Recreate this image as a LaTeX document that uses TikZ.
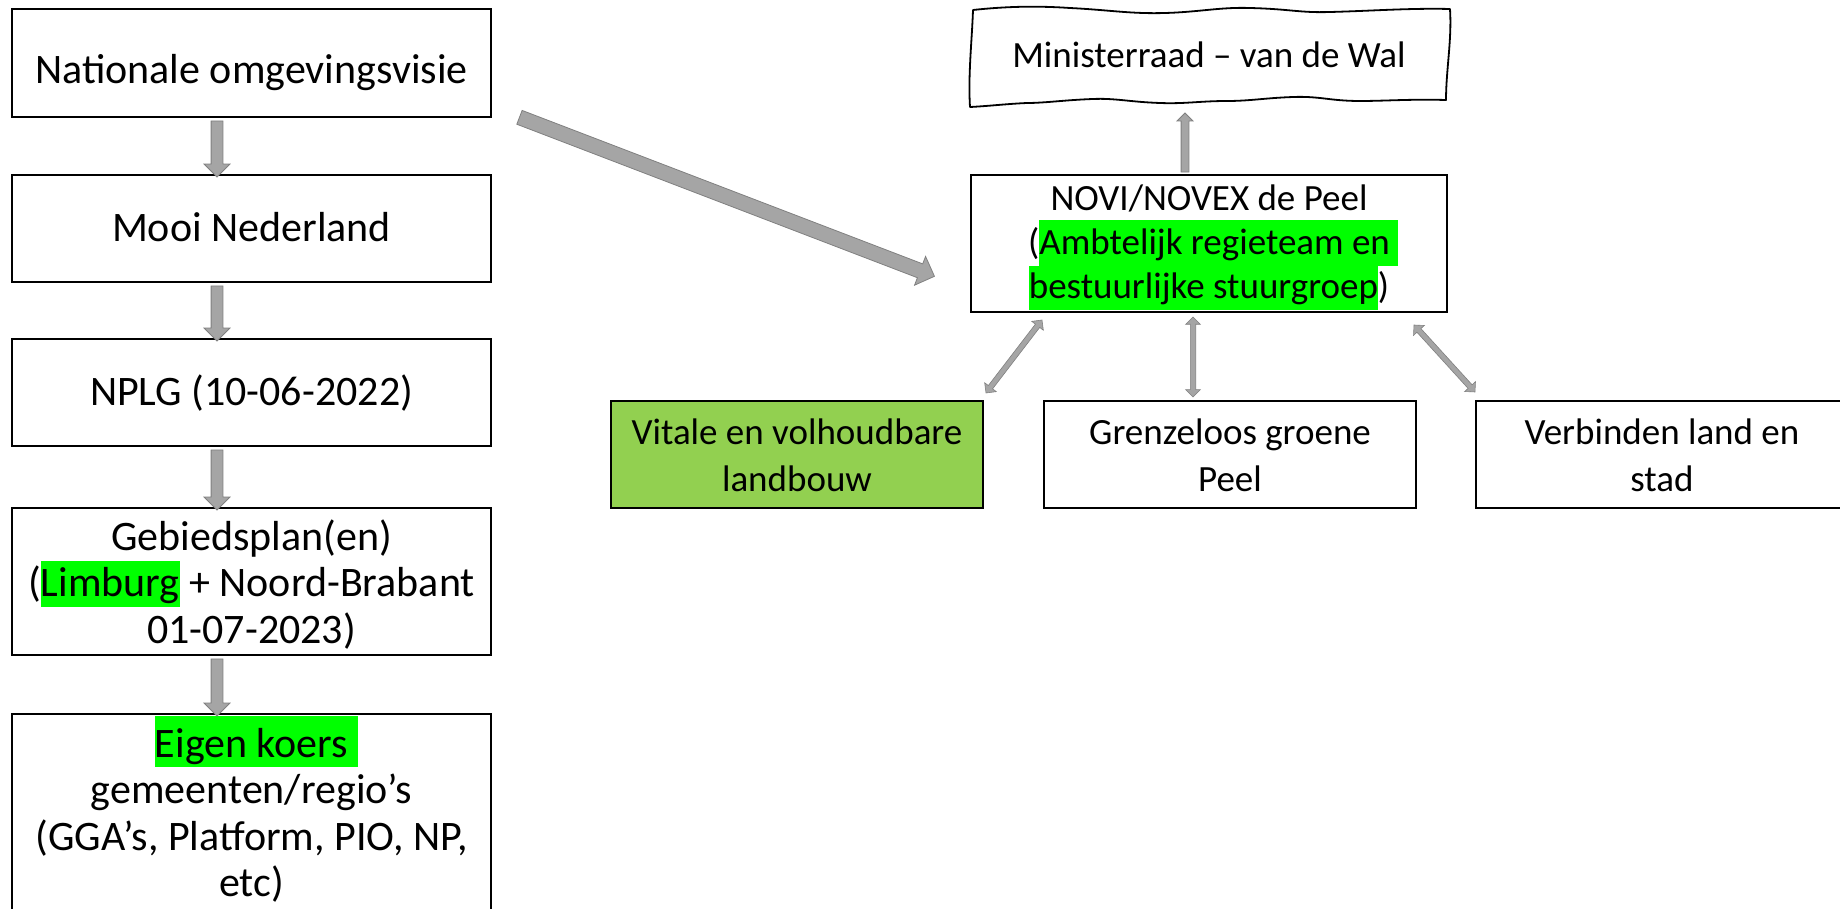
\documentclass[tikz,border=0pt]{standalone}
\usepackage{fontspec}
\setmainfont{Carlito}
\usetikzlibrary{calc,shapes.arrows}
\definecolor{hlgreen}{HTML}{00FF00}
\definecolor{vgreen}{HTML}{92D050}
\definecolor{arrfill}{HTML}{A5A5A5}
\definecolor{arredge}{HTML}{808080}
\newcommand\lfont{\fontsize{42pt}{46.5pt}\selectfont\lineskiplimit=-100pt\lineskip=0pt}
\newcommand\rfont{\fontsize{37pt}{44pt}\selectfont\lineskiplimit=-100pt\lineskip=0pt}
\newcommand\rfontb{\fontsize{37pt}{47.5pt}\selectfont\lineskiplimit=-100pt\lineskip=0pt}
\newcommand\hlg[3]{{\setlength{\fboxsep}{0pt}\colorbox{hlgreen}{\rule[-#3]{0pt}{\dimexpr #2+#3\relax}#1}}}
\newcommand\hlsp[2]{\rlap{\hlg{\hspace{\fontdimen2\font}}{#1}{#2}}}
% block arrow: style, name, from, to
\newcommand\blockarrow[4]{%
  \path let \p1=(#3), \p2=(#4),
    \n1={atan2(\y2-\y1,\x2-\x1)}, \n2={veclen(\x2-\x1,\y2-\y1)} in
    node[#1, minimum height=\n2, rotate=\n1] (#2) at ($(#3)!0.5!(#4)$) {};}
\tikzset{
  box/.style={draw=black, line width=2pt, rectangle, inner sep=0pt},
  ltxt/.style={inner sep=0pt, font=\lfont},
  lmulti/.style={inner sep=0pt, align=center, font=\lfont},
  rtxt/.style={inner sep=0pt, font=\rfont},
  rmulti/.style={inner sep=0pt, align=center, font=\rfont},
  rmultib/.style={inner sep=0pt, align=center, font=\rfontb},
  arrbase/.style={fill=arrfill, draw=arredge, line width=0.8pt, inner xsep=0pt, minimum width=1pt},
  bigarr/.style={arrbase, single arrow, single arrow tip angle=90, single arrow head indent=0pt,
    inner ysep=5.5pt, single arrow head extend=7pt},
  diagarr/.style={arrbase, single arrow, single arrow tip angle=90, single arrow head indent=0pt,
    inner ysep=7pt, single arrow head extend=8pt},
  thinarr/.style={arrbase, single arrow, single arrow tip angle=90, single arrow head indent=0pt,
    inner ysep=3.5pt, single arrow head extend=4pt},
  dblarr/.style={arrbase, line width=0.6pt, double arrow, double arrow tip angle=90, double arrow head indent=0pt,
    inner ysep=2.4pt, double arrow head extend=4.6pt},
}
\begin{document}
\begin{tikzpicture}[x=1pt,y=-1pt]
\useasboundingbox (0,0) rectangle (1840,909);
\clip (0,0) rectangle (1840,909);
\fill[white] (0,0) rectangle (1840,909);

% left column boxes
\node[box, minimum width=479pt, minimum height=108pt] (b1) at (251.5,63) {};
\node[box, minimum width=479pt, minimum height=107pt] (b2) at (251.5,228.5) {};
\node[box, minimum width=479pt, minimum height=107pt] (b3) at (251.5,392.5) {};
\node[box, minimum width=479pt, minimum height=147pt] (b4) at (251.5,581.5) {};
\node[box, minimum width=479pt, minimum height=216pt] (b5) at (251.5,822) {};

\node[ltxt, anchor=base] (t1) at (251.5,83.3) {Nationale omgevingsvisie};
\node[ltxt, anchor=base] (t2) at (251.5,241.7) {Mooi Nederland};
\node[ltxt, anchor=base] (t3) at (251.5,405) {NPLG (10-06-2022)};
\node[lmulti, anchor=north] (t4) at (251.5,517.5)
  {\strut Gebiedsplan(en)\\ \strut(\hlg{Limburg}{36pt}{10pt} + Noord-Brabant\\ \strut 01-07-2023)};
\node[lmulti, anchor=north] (t5) at (251.5,716)
  {\strut\hlg{Eigen koers}{41pt}{10pt}\hlsp{41pt}{10pt}\\ \strut gemeenten/regio’s\\ \strut(GGA’s, Platform, PIO, NP,\\ \strut etc)};

% right side
\node[box, minimum width=476pt, minimum height=137pt] (novi) at (1209,243.5) {};
\node[rmulti, anchor=north] (tnovi) at (1209,179.2)
  {\strut NOVI/NOVEX de Peel\\ \strut(\hlg{Ambtelijk regieteam en}{34pt}{11.5pt}\hlsp{34pt}{11.5pt}\\ \strut\hlg{bestuurlijke stuurgroep}{32pt}{12pt})};

\node[box, fill=vgreen, minimum width=372pt, minimum height=107pt] (vit) at (797,454.5) {};
\node[box, minimum width=372pt, minimum height=107pt] (grz) at (1230,454.5) {};
\node[box, minimum width=372pt, minimum height=107pt] (vrb) at (1662,454.5) {};
\node[rmultib, anchor=north] (tvit) at (797,410.75) {\strut Vitale en volhoudbare\\ \strut landbouw};
\node[rmultib, anchor=north] (tgrz) at (1230,410.75) {\strut Grenzeloos groene\\ \strut Peel};
\node[rmultib, anchor=north] (tvrb) at (1662,410.75) {\strut Verbinden land en\\ \strut stad};

% Ministerraad (sketched outline)
\node[rtxt, anchor=base] (min) at (1209,68) {Ministerraad – van de Wal};
\draw[line width=1.8pt, line join=round]
  (973,10) .. controls (1010,6) and (1040,6) .. (1070,8)
  .. controls (1110,10) and (1130,14) .. (1165,13)
  .. controls (1200,12) and (1220,7) .. (1250,8)
  .. controls (1290,9) and (1300,13) .. (1330,12)
  .. controls (1370,11) and (1410,8) .. (1450,9)
  .. controls (1452,40) and (1446,70) .. (1446,100)
  .. controls (1410,99) and (1385,101) .. (1360,101)
  .. controls (1330,101) and (1320,96) .. (1293,97)
  .. controls (1265,98) and (1250,101) .. (1227,101)
  .. controls (1200,101) and (1185,104) .. (1160,103)
  .. controls (1130,102) and (1115,98) .. (1093,99)
  .. controls (1065,100) and (1045,103) .. (1027,103)
  .. controls (1005,104) and (990,106) .. (970,107)
  .. controls (968,75) and (972,40) .. (973,10) -- cycle;

% connector coordinates
\coordinate (ax) at (217,0);
\coordinate (upx) at (1185,0);
\coordinate (mtip) at (1185,115);
\coordinate (dtail) at (516,116);
\coordinate (dtip) at (931,275);
\coordinate (l1) at (1042,320);
\coordinate (l2) at (986,393);
\coordinate (m1) at (1193,317);
\coordinate (m2) at (1193,397);
\coordinate (r1) at (1414,325);
\coordinate (r2) at (1475,392);

% connectors
\blockarrow{bigarr}{a1}{b1.south -| ax}{b2.north -| ax}
\blockarrow{bigarr}{a2}{b2.south -| ax}{b3.north -| ax}
\blockarrow{bigarr}{a3}{b3.south -| ax}{b4.north -| ax}
\blockarrow{bigarr}{a4}{b4.south -| ax}{b5.north -| ax}
\blockarrow{diagarr}{a5}{dtail}{dtip}
\blockarrow{thinarr}{a6}{novi.north -| upx}{mtip}
\blockarrow{dblarr}{d1}{l1}{l2}
\blockarrow{dblarr}{d2}{m1}{m2}
\blockarrow{dblarr}{d3}{r1}{r2}
\end{tikzpicture}
\end{document}
